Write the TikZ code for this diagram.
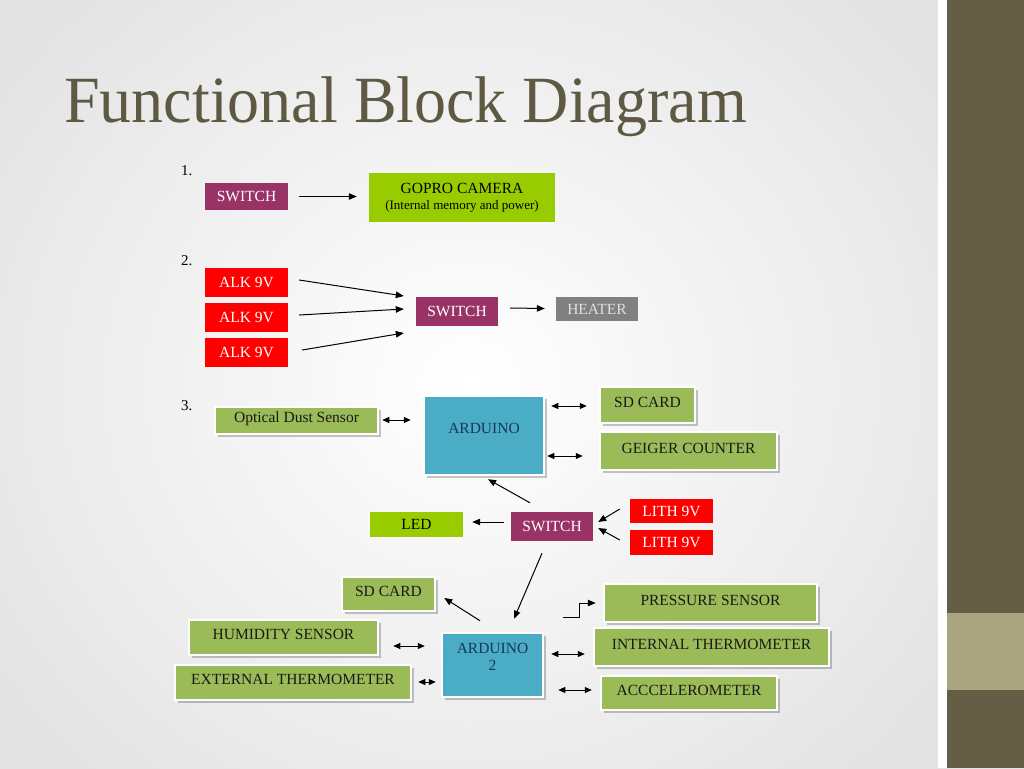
\documentclass[tikz,border=0pt]{standalone}
\usepackage{fontspec}
\setmainfont{Liberation Serif}
\newfontfamily\titlefont[FakeStretch=0.97]{Liberation Serif}
\usetikzlibrary{arrows.meta,shadows,calc}
\definecolor{swpurple}{HTML}{993366}
\definecolor{alkred}{HTML}{FF0000}
\definecolor{limeg}{HTML}{99CC00}
\definecolor{heatgrey}{HTML}{808080}
\definecolor{olivegreen}{HTML}{9BBB59}
\definecolor{ardblue}{HTML}{4BACC6}
\definecolor{ardtext}{HTML}{17375E}
\definecolor{titlecol}{HTML}{5E5943}
\definecolor{sidedark}{HTML}{655E46}
\definecolor{sidelight}{HTML}{A9A57E}
\begin{document}
\begin{tikzpicture}[x=1pt,y=-1pt,
  basebox/.style={inner sep=0pt, align=center, font=\fontsize{15.5}{17}\selectfont},
  purplebox/.style={basebox, fill=swpurple, text=white},
  redbox/.style={basebox, fill=alkred, text=white},
  limebox/.style={basebox, fill=limeg, text=black},
  greybox/.style={basebox, fill=heatgrey, text=white!88!black},
  greenbox/.style={basebox, fill=olivegreen, text=black!90, draw=white, line width=2.5pt, text depth=6pt,
    drop shadow={shadow xshift=2.5pt, shadow yshift=-2.5pt, fill=black, opacity=0.22}},
  bluebox/.style={basebox, fill=ardblue, text=ardtext, draw=white, line width=2.5pt,
    drop shadow={shadow xshift=2.5pt, shadow yshift=-2.5pt, fill=black, opacity=0.22}},
  numlabel/.style={inner sep=0pt, anchor=base west, font=\fontsize{15}{17}\selectfont},
  con/.style={line width=1pt, -{Triangle[length=8pt,width=6.5pt]}},
  dcon/.style={line width=1pt, {Triangle[length=7pt,width=6pt]}-{Triangle[length=7pt,width=6pt]}}
]
% background
\useasboundingbox (0,0) rectangle (1024,768);
\shade[inner color=white, outer color=black!11] (-120,-160) rectangle (1060,930);
\fill[white] (938,0) rectangle (947,768);
\fill[sidedark] (947,0) rectangle (1024,768);
\fill[sidelight] (947,613) rectangle (1024,690);

% title
\node[inner sep=0pt, anchor=base west, text=titlecol, font=\titlefont\fontsize{66}{70}\selectfont] (title) at (64,122) {Functional Block Diagram};

% section 1
\node[numlabel] (n1) at (181,175) {1.};
\node[purplebox, minimum width=83pt, minimum height=27pt] (sw1) at (246.5,196.5) {SWITCH};
\node[limebox, minimum width=186pt, minimum height=49pt] (gopro) at (462,197.5) {GOPRO CAMERA\\[-1pt]{\fontsize{13}{15}\selectfont (Internal memory and power)}};
\draw[con, shorten <=11pt, shorten >=12pt] (sw1.east) -- (sw1.east -| gopro.west);

% section 2
\node[numlabel] (n2) at (181,265) {2.};
\node[redbox, minimum width=83pt, minimum height=29pt] (alk1) at (246.5,282.5) {ALK 9V};
\node[redbox, minimum width=83pt, minimum height=29pt] (alk2) at (246.5,317.5) {ALK 9V};
\node[redbox, minimum width=83pt, minimum height=29pt] (alk3) at (246.5,352.5) {ALK 9V};
\node[purplebox, minimum width=82pt, minimum height=29pt] (sw2) at (457,311.5) {SWITCH};
\node[greybox, minimum width=82pt, minimum height=24pt] (heater) at (597,309) {HEATER};
\draw[con] ($(alk1.east)+(11,-2.5)$) -- ($(sw2.west)+(-12,-15.5)$);
\draw[con] ($(alk2.east)+(11,-2.5)$) -- ($(sw2.west)+(-12,-2.5)$);
\draw[con] ($(alk3.east)+(14,-2.5)$) -- ($(sw2.west)+(-12,21.5)$);
\draw[con] ($(sw2.east)+(12,-3.5)$) -- ($(heater.west)+(-11,-0.5)$);

% section 3
\node[numlabel] (n3) at (181,410) {3.};
\node[greenbox, minimum width=163pt, minimum height=27pt] (dust) at (296.5,420.5) {Optical Dust Sensor};
\node[bluebox, minimum width=120pt, minimum height=79pt, text depth=14pt] (ard1) at (484,435.5) {ARDUINO};
\node[greenbox, minimum width=95pt, minimum height=36pt] (sd1) at (647.5,405) {SD CARD};
\node[greenbox, minimum width=177pt, minimum height=38pt] (geiger) at (688.5,451) {GEIGER COUNTER};
\node[limebox, minimum width=93pt, minimum height=25pt] (led) at (416.5,524.5) {LED};
\node[purplebox, minimum width=82pt, minimum height=29pt] (sw3) at (552,526.5) {SWITCH};
\node[redbox, minimum width=83pt, minimum height=24pt] (lith1) at (671.5,511) {LITH 9V};
\node[redbox, minimum width=83pt, minimum height=25pt] (lith2) at (671.5,542.5) {LITH 9V};
\node[greenbox, minimum width=93pt, minimum height=34pt] (sd2) at (388.5,594) {SD CARD};
\node[greenbox, minimum width=189pt, minimum height=35pt] (hum) at (283.5,637.5) {HUMIDITY SENSOR};
\node[greenbox, minimum width=236pt, minimum height=35pt] (ext) at (293,682.5) {EXTERNAL THERMOMETER};
\node[bluebox, minimum width=101pt, minimum height=64pt, text depth=16pt] (ard2) at (492.5,665) {ARDUINO\\2};
\node[greenbox, minimum width=213pt, minimum height=38pt] (press) at (710.5,603) {PRESSURE SENSOR};
\node[greenbox, minimum width=235pt, minimum height=38pt] (intth) at (711.5,647) {INTERNAL THERMOMETER};
\node[greenbox, minimum width=176pt, minimum height=34pt] (accel) at (689,693) {ACCCELEROMETER};

\draw[dcon] ($(dust.east)+(3,-0.5)$) -- ($(ard1.west)+(-12,-15.5)$);
\draw[dcon] ($(ard1.east)+(6,-29.5)$) -- ($(sd1.west)+(-12,1)$);
\draw[dcon] ($(ard1.east)+(2,20.5)$) -- ($(geiger.west)+(-16,5)$);
\draw[con] ($(sw3.north)+(-22,-9)$) -- ($(ard1.south)+(4,3)$);
\draw[con] ($(sw3.west)+(-7,-4.5)$) -- ($(led.east)+(9,-2.5)$);
\draw[con] ($(lith1.west)+(-10,-2)$) -- ($(sw3.east)+(5,-4.5)$);
\draw[con] ($(lith2.west)+(-10,-2.5)$) -- ($(sw3.east)+(5,1.5)$);
\draw[con] ($(sw3.south)+(-10,12)$) -- ($(ard2.north)+(21.5,-13)$);
\draw[con] ($(ard2.north)+(-12.5,-11)$) -- ($(sd2.east)+(8,4)$);
\draw[dcon] ($(hum.east)+(14,8.5)$) -- ($(ard2.west)+(-16,-19)$);
\draw[dcon] ($(ext.east)+(6,-0.5)$) -- ($(ard2.west)+(-5,17)$);
\draw[line width=1pt, -{Triangle[length=8pt,width=6.5pt]}] ($(ard2.east)+(19,-48)$) -- ++(16,0) |- ($(press.west)+(-7,0)$);
\draw[dcon] ($(ard2.east)+(7,-11)$) -- ($(intth.west)+(-8,7)$);
\draw[dcon] ($(ard2.east)+(14,25)$) -- ($(accel.west)+(-8,-3)$);
\end{tikzpicture}
\end{document}
